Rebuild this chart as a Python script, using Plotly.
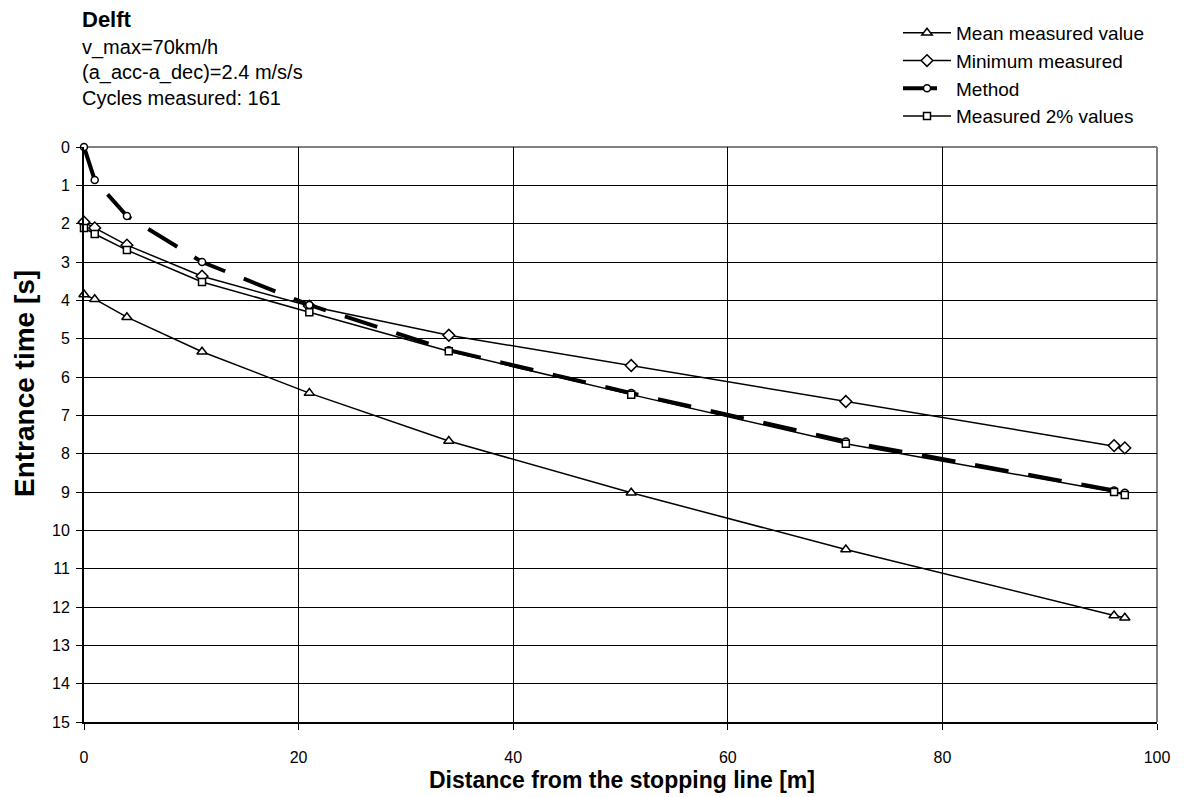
import plotly.graph_objects as go

distance = [0, 1, 4, 11, 21, 34, 51, 71, 96, 97]
mean_measured = [3.85, 3.97, 4.44, 5.34, 6.42, 7.67, 9.02, 10.50, 12.22, 12.28]
minimum_measured = [1.96, 2.11, 2.56, 3.37, 4.15, 4.91, 5.70, 6.64, 7.79, 7.85]
method = [0.0, 0.86, 1.80, 3.00, 4.12, 5.30, 6.42, 7.68, 8.96, 9.02]
measured_2pct = [2.11, 2.27, 2.69, 3.52, 4.31, 5.33, 6.46, 7.74, 9.00, 9.08]

x_ticks = [0, 20, 40, 60, 80, 100]
y_ticks = list(range(0, 16))

FONT = "Arial, Liberation Sans, sans-serif"

fig = go.Figure()

def add(y, name, symbol, size, dash="solid", width=1.5):
    fig.add_trace(go.Scatter(
        x=distance, y=y, name=name, mode="lines+markers",
        line=dict(color="black", width=width, dash=dash),
        marker=dict(symbol=symbol, size=size, color="white",
                    line=dict(color="black", width=1.5)),
        legendgroup=name, cliponaxis=False,
    ))

add(mean_measured, "Mean measured value", "triangle-up", 9)
add(minimum_measured, "Minimum measured", "diamond", 9)
add(method, "Method", "circle", 7, dash="34px,20px", width=4)
add(measured_2pct, "Measured 2% values", "square", 7)

# page has an 8px body margin; plot area in page pixels: x 84..1157, y 147..722
OFF = 8
W, H = 1185 - OFF, 797 - OFF
L, R, T, B = 84, 1157, 147, 722
px_w = R - L
px_h = B - T

def px_x(p):
    return (p - L) / px_w

def px_y(p):
    return 1 + (T - p) / px_h

texts = [
    dict(text="<b>Delft</b>", x=px_x(80), y=px_y(20), size=22, anchor="middle"),
    dict(text="v_max=70km/h", x=px_x(80), y=px_y(48), size=20, anchor="middle"),
    dict(text="(a_acc-a_dec)=2.4 m/s/s", x=px_x(80), y=px_y(73), size=20, anchor="middle"),
    dict(text="Cycles measured: 161", x=px_x(80), y=px_y(98), size=20, anchor="middle"),
]
annots = [
    dict(text=a["text"], x=a["x"], y=a["y"], xref="paper", yref="paper",
         xanchor="left", yanchor=a["anchor"], showarrow=False,
         font=dict(family=FONT, size=a["size"], color="black"))
    for a in texts
]
annots.append(dict(text="<b>Entrance time [s]</b>", x=px_x(24), y=px_y(384),
                   xref="paper", yref="paper", xanchor="center", yanchor="middle",
                   textangle=-90, showarrow=False,
                   font=dict(family=FONT, size=28, color="black")))
annots.append(dict(text="<b>Distance from the stopping line [m]</b>",
                   x=px_x(622), y=px_y(780),
                   xref="paper", yref="paper", xanchor="center", yanchor="middle",
                   showarrow=False,
                   font=dict(family=FONT, size=23, color="black")))

fig.update_layout(
    annotations=annots,
    width=W, height=H,
    margin=dict(l=L - OFF, r=W - (R - OFF), t=T - OFF, b=H - (B - OFF),
                autoexpand=False),
    paper_bgcolor="white", plot_bgcolor="white",
    font=dict(family=FONT, size=16, color="black"),
    showlegend=True,
    legend=dict(x=px_x(898), y=px_y(14), xanchor="left", yanchor="top",
                bgcolor="rgba(0,0,0,0)", font=dict(size=19, family=FONT),
                tracegroupgap=0, traceorder="grouped", itemwidth=48),
    xaxis=dict(range=[0, 100], tickvals=x_ticks, showgrid=True,
               gridcolor="black", gridwidth=1, zeroline=False,
               showline=True, linecolor="black", linewidth=2,
               ticks="outside", ticklen=6, tickcolor="black",
               ticklabelstandoff=14, automargin=False,
               tickfont=dict(size=16, family=FONT)),
    yaxis=dict(range=[15, 0], tickvals=y_ticks, showgrid=True,
               gridcolor="black", gridwidth=1, zeroline=False,
               showline=True, linecolor="black", linewidth=2,
               ticks="outside", ticklen=6, tickcolor="black",
               ticklabelstandoff=3, automargin=False,
               tickfont=dict(size=16, family=FONT)),
    shapes=[
        dict(type="line", xref="paper", yref="paper", x0=0, x1=1, y0=1, y1=1,
             line=dict(color="#808080", width=2), layer="between"),
        dict(type="line", xref="paper", yref="paper", x0=1, x1=1, y0=0, y1=1,
             line=dict(color="#808080", width=2), layer="between"),
    ],
)

fig.write_html("out.html")
